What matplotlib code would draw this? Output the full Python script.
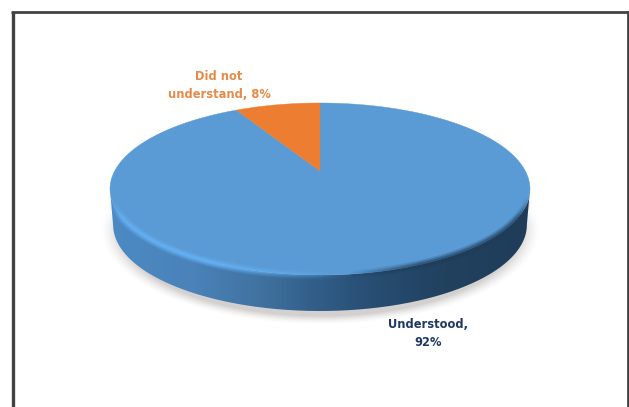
import numpy as np
import matplotlib
matplotlib.use('Agg')
import matplotlib.pyplot as plt
from matplotlib.colors import LinearSegmentedColormap, to_rgb
from matplotlib.collections import LineCollection
from matplotlib.patches import PathPatch, Polygon
from matplotlib.path import Path

# Share of respondents
labels = ['Understood,\n92%', 'Did not\nunderstand, 8%']
values = [92, 8]
colors = ['#5b9bd5', '#ed7d31']
text_colors = ['#1f3864', '#e58b49']

W, H = 629, 407
CX, APEX_Y = 320, 171      # where the slices meet on the tilted disc
BACK, FRONT = 68, 104      # apex to back/front rim along the vertical
RX = 210                   # half width of the disc
DEPTH = 36                 # thickness of the disc

# perspective terms for a unit circle tilted away from the viewer
k = (FRONT - BACK) / (FRONT + BACK)
b = BACK * (1 + k)
a = RX * np.sqrt(1 - k ** 2)


def project(theta, scale=1.0, drop=0.0):
    # theta in radians, clockwise from the back of the disc
    w = 1 + k * np.cos(theta)
    x = CX + scale * a * np.sin(theta) / w
    y = APEX_Y - b * np.cos(theta) / w + drop
    return x, y


def slice_polygon(start, stop):
    t = np.linspace(start, stop, 300)
    x, y = project(t)
    return np.column_stack([np.r_[CX, x], np.r_[APEX_Y, y]])


fig = plt.figure(figsize=(W / 100, H / 100), dpi=100)
ax = fig.add_axes([0, 0, 1, 1])
ax.set_xlim(0, W)
ax.set_ylim(H, 0)
ax.axis('off')

# soft shadow under the disc
yy, xx = np.mgrid[0:H, 0:W]
r = np.hypot((xx - CX) / 220, (yy - 229) / 95)
shadow = np.zeros((H, W, 4))
shadow[..., :3] = to_rgb('#8c8780')
shadow[..., 3] = np.clip((1 - r) / 0.09, 0, 1) ** 1.5 * 0.38 * np.clip((yy - 195) / 30, 0, 1)
ax.imshow(shadow, extent=(0, W, H, 0), zorder=1, aspect='auto')

# rim of the disc, from the left extreme round the front to the right extreme
t_right = np.arccos(-k)
t_front = np.linspace(t_right, 2 * np.pi - t_right, 400)
x_top, y_top = project(t_front)
x_bot, y_bot = project(t_front, scale=0.985, drop=DEPTH)
side_path = Path(np.column_stack([np.r_[x_top, x_bot[::-1]], np.r_[y_top, y_bot[::-1]]]))

side_cmap = LinearSegmentedColormap.from_list('side', [
    (0.00, '#4c8ac4'), (0.20, '#4a82b9'), (0.36, '#41729f'), (0.48, '#325f8a'),
    (0.62, '#284e73'), (0.80, '#21415f'), (1.00, '#1f3d59')])
side_img = ax.imshow(np.linspace(0, 1, 420)[None, :], extent=(110, 530, 320, 180),
                     cmap=side_cmap, zorder=2, aspect='auto')
side_img.set_clip_path(PathPatch(side_path, transform=ax.transData))

# top face, slices clockwise from the back with the small one ending at the top
angles = np.cumsum([0] + values) / sum(values) * 2 * np.pi
for i, color in enumerate(colors):
    poly = slice_polygon(angles[i], angles[i + 1])
    ax.add_patch(Polygon(poly, closed=True, facecolor=color, edgecolor=color, lw=0.3, zorder=3))

# lit bevel along the front edge, fading into a soft dark edge on the right
t_edge = t_front[::-1]
x_e, y_e = project(t_edge)
pts = np.column_stack([x_e, y_e]).reshape(-1, 1, 2)
segs = np.concatenate([pts[:-1], pts[1:]], axis=1)
mid_x = (x_e[:-1] + x_e[1:]) / 2
fade = np.clip(np.minimum(mid_x - 111, 529 - mid_x) / 12, 0, 1)
light = np.array(to_rgb('#66b4f8'))
dark = np.array(to_rgb('#1f3d59'))
for width, strength in [(6.5, 0.25), (4.4, 0.4), (2.4, 0.6)]:
    lit = np.clip((350 - mid_x) / 140, 0, 1)
    shade = np.clip((mid_x - 350) / 70, 0, 1)
    rgba = np.zeros((len(mid_x), 4))
    rgba[:, :3] = np.where((mid_x < 350)[:, None], light, dark)
    rgba[:, 3] = strength * (lit + 0.8 * shade) * fade
    ax.add_collection(LineCollection(segs, colors=rgba, linewidths=width, zorder=4, capstyle='butt'))

# data labels
label_pos = [(428, 333.5), (219, 85.5)]
for text, color, (x, y) in zip(labels, text_colors, label_pos):
    ax.text(x, y, text, color=color, ha='center', va='center', family='DejaVu Sans',
            fontweight='bold', fontsize=8.3, linespacing=1.5, zorder=5)

# outer frame, open along the bottom
frame = '#424242'
ax.plot([12.5, 12.5], [H, 12], color=frame, lw=2.4, solid_capstyle='butt', zorder=6)
ax.plot([11, W], [12, 12], color=frame, lw=2.0, solid_capstyle='butt', zorder=6)
ax.plot([627.5, 627.5], [11, H], color=frame, lw=2.0, solid_capstyle='butt', zorder=6)

fig.savefig('out.png', dpi=100, facecolor='white')
